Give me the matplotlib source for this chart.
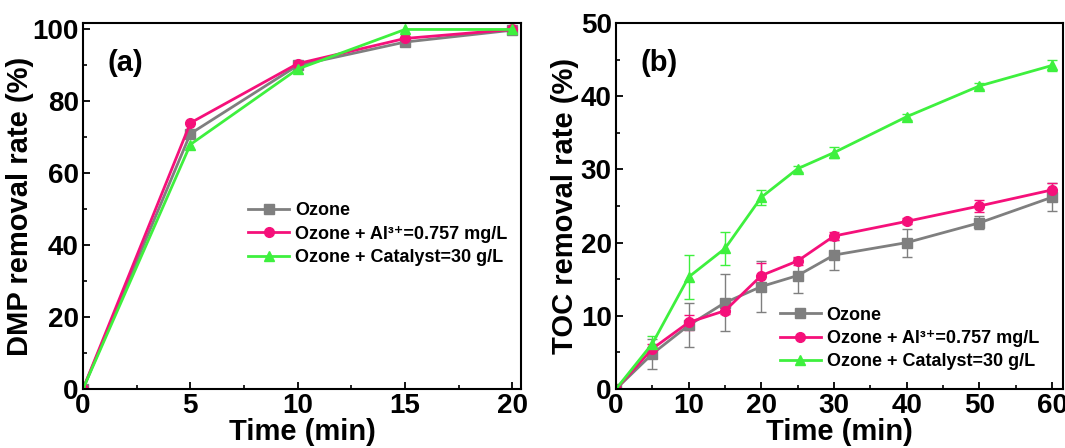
import numpy as np
import matplotlib.pyplot as plt
from matplotlib.ticker import MultipleLocator
from matplotlib.lines import Line2D

plt.rcParams['font.family'] = ['Liberation Sans', 'DejaVu Sans']
plt.rcParams['font.weight'] = 'bold'

labels = ['Ozone', 'Ozone + Al³⁺=0.757 mg/L', 'Ozone + Catalyst=30 g/L']
colors = ['#7f7f7f', '#f5107a', '#3ef03e']
markers = ['s', 'o', '^']

# (a) DMP removal
time_a = [0, 5, 10, 15, 20]
dmp_ozone = [0, 71, 90, 96.5, 99.8]
dmp_al = [0, 74, 90.5, 97.5, 100]
dmp_cat = [0, 68, 89, 100, 100]

# (b) TOC removal
time_b = [0, 5, 10, 15, 20, 25, 30, 40, 50, 60]
toc_ozone = [0, 4.8, 8.7, 11.8, 14.0, 15.5, 18.3, 20.0, 22.7, 26.2]
toc_ozone_err = [0, 2.0, 3.0, 3.9, 3.5, 2.4, 2.1, 1.9, 0.9, 1.9]
toc_al = [0, 5.5, 9.1, 10.7, 15.5, 17.5, 20.9, 22.9, 25.0, 27.2]
toc_al_err = [0, 0.6, 1.0, 0.5, 1.7, 0.5, 0.5, 0.4, 0.8, 1.0]
toc_cat = [0, 6.2, 15.3, 19.2, 26.2, 30.1, 32.3, 37.2, 41.4, 44.2]
toc_cat_err = [0, 1.0, 3.0, 2.2, 1.0, 0.4, 0.7, 0.4, 0.4, 0.7]

fig = plt.figure(figsize=(10.65, 4.48), dpi=100)
ax1 = fig.add_axes([83/1065, 1-389/448, (521-83)/1065, 366/448])
ax2 = fig.add_axes([616/1065, 1-389/448, (1063-616)/1065, 366/448])

for ys, c, m, lab in zip([dmp_ozone, dmp_al, dmp_cat], colors, markers, labels):
    ax1.plot(time_a, ys, color=c, marker=m, ms=7, lw=2, label=lab)

for ys, es, c, m in zip([toc_ozone, toc_al, toc_cat],
                        [toc_ozone_err, toc_al_err, toc_cat_err],
                        colors, markers):
    ax2.errorbar(time_b, ys, yerr=es, color=c, marker=m, ms=7, lw=2,
                 elinewidth=1, capsize=3.5, capthick=1, ecolor=c)

handles = [Line2D([], [], color=c, marker=m, ms=7, lw=2)
           for c, m in zip(colors, markers)]

ax1.set_xlim(0, 20.4)
ax1.set_ylim(0, 101.8)
ax1.xaxis.set_major_locator(MultipleLocator(5))
ax1.xaxis.set_minor_locator(MultipleLocator(2.5))
ax1.yaxis.set_major_locator(MultipleLocator(20))
ax1.yaxis.set_minor_locator(MultipleLocator(10))

ax2.set_xlim(0, 61.5)
ax2.set_ylim(0, 50)
ax2.xaxis.set_major_locator(MultipleLocator(10))
ax2.xaxis.set_minor_locator(MultipleLocator(5))
ax2.yaxis.set_major_locator(MultipleLocator(10))
ax2.yaxis.set_minor_locator(MultipleLocator(5))

for ax, yl, tag, pad in [(ax1, 'DMP removal rate (%)', '(a)', -1),
                         (ax2, 'TOC removal rate (%)', '(b)', 1)]:
    ax.set_xlabel('Time (min)', fontsize=21, fontweight='bold', labelpad=-1)
    ax.set_ylabel(yl, fontsize=21, fontweight='bold', labelpad=pad)
    ax.tick_params(which='both', direction='in', labelsize=20, pad=3)
    ax.tick_params(which='major', length=5, width=1.3)
    ax.tick_params(which='minor', length=3, width=1.2)
    for s in ax.spines.values():
        s.set_linewidth(1.5)
    ax.text(0.055, 0.89, tag, transform=ax.transAxes, fontsize=21,
            fontweight='bold', va='center')

ax1.legend(handles, labels, loc='upper left', bbox_to_anchor=(0.36, 0.53),
           frameon=False, fontsize=13, handlelength=2.3, handletextpad=0.3,
           labelspacing=0.35, borderaxespad=0)
ax2.legend(handles, labels, loc='upper left', bbox_to_anchor=(0.35, 0.245),
           frameon=False, fontsize=13, handlelength=2.3, handletextpad=0.3,
           labelspacing=0.35, borderaxespad=0)

fig.savefig('out.png', dpi=100)
